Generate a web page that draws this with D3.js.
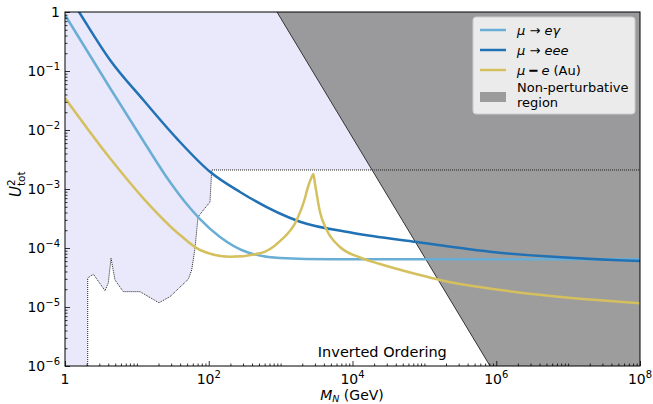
<!DOCTYPE html>
<html>
<head>
<meta charset="utf-8">
<script src="https://cdn.jsdelivr.net/npm/d3@7"></script>
<style>
  body { margin: 0; background: #fff; }
  text { font-family: "DejaVu Sans", sans-serif; }
</style>
</head>
<body>
<script>
// heavy neutral lepton mass (GeV) vs. total mixing
var egammaM = [1, 4.23, 12.97, 28.9, 46.7, 75.6, 143.5, 337, 980, 4860, 1e8]
var egammaU = [0.889, 5.15e-2, 5.9e-3, 1.31e-3, 6.02e-4, 3.1e-4, 1.54e-4, 8.55e-5, 6.77e-5, 6.43e-5, 6.43e-5]

var eeeM = [1, 1.57, 4.23, 12.3, 35.8, 104, 272, 1860, 10200, 7.9e4, 8.2e5, 1e8]
var eeeU = [2.4, 1, 0.154, 3.22e-2, 7.2e-3, 1.96e-3, 8.9e-4, 2.79e-4, 1.8e-4, 1.26e-4, 8.65e-5, 6.0e-5]

var auM = [1, 4.23, 12.3, 39.8, 75.6, 198, 517, 980, 1675, 2185, 2330, 2706, 2850,
           3010, 3530, 4380, 6700, 12700, 24150, 86900, 1.65e5, 1.73e6, 1e8]
var auU = [3.48e-2, 3.31e-3, 6.95e-4, 1.66e-4, 9.25e-5, 7.12e-5, 8.13e-5, 1.31e-4, 2.98e-4, 7.04e-4, 9.6e-4, 1.6e-3, 1.8e-3,
           1.22e-3, 4.07e-4, 2.02e-4, 1.04e-4, 6.9e-5, 5.36e-5, 3.48e-5, 2.87e-5, 1.82e-5, 1.16e-5]

// excluded region boundary (dotted)
var bndM = [1, 2.07, 2.07, 2.48, 3.6, 4.0, 4.37, 4.96, 6.47, 11.05, 20.3, 28.9, 51.9, 57.9, 64.4, 70.9, 88.7, 104, 110, 1e8]
var bndU = [1e-6, 1e-6, 3.1e-5, 3.6e-5, 1.89e-5, 2.55e-5, 6.7e-5, 2.87e-5, 1.82e-5, 1.82e-5, 1.18e-5, 1.5e-5,
            2.95e-5, 4.24e-5, 9.9e-5, 3.35e-4, 4.76e-4, 6.0e-4, 2.1e-3, 2.1e-3]

// non-perturbative edge
var nonPertM = [890, 8.2e5]
var nonPertU = [1, 1e-6]

var xMajor = [1, 1e2, 1e4, 1e6, 1e8]
var yMajor = [1e-6, 1e-5, 1e-4, 1e-3, 1e-2, 1e-1, 1]

var width = 653, height = 404
var pL = 65, pR = 640, pT = 12, pB = 366

var x = d3.scaleLog().domain([1, 1e8]).range([pL, pR])
var y = d3.scaleLog().domain([1e-6, 1]).range([pB, pT])

var zip = (a, b) => a.map((v, i) => [v, b[i]])

var svg = d3.select("body").append("svg")
    .attr("width", width)
    .attr("height", height)

svg.append("defs").append("clipPath").attr("id", "plot")
    .append("rect")
    .attr("x", pL).attr("y", pT)
    .attr("width", pR - pL).attr("height", pB - pT)

var plot = svg.append("g").attr("clip-path", "url(#plot)")

// lavender excluded area
var bnd = zip(bndM, bndU)
plot.append("path")
    .datum(bnd)
    .attr("fill", "#e9e9fb")
    .attr("d", d3.area().x(d => x(d[0])).y0(y(1)).y1(d => y(d[1])))

// non-perturbative region
var np = zip(nonPertM, nonPertU)
plot.append("path")
    .attr("fill", "#8f8f8f")
    .attr("fill-opacity", 0.87)
    .attr("d", `M${x(np[0][0])},${y(np[0][1])}L${x(1e8)},${y(1)}L${x(1e8)},${y(1e-6)}L${x(np[1][0])},${y(np[1][1])}Z`)
plot.append("path")
    .datum(np)
    .attr("fill", "none")
    .attr("stroke", "#333")
    .attr("stroke-width", 1)
    .attr("d", d3.line().x(d => x(d[0])).y(d => y(d[1])))

// dotted boundary
plot.append("path")
    .datum(bnd.slice(1))
    .attr("fill", "none")
    .attr("stroke", "#222")
    .attr("stroke-width", 1)
    .attr("stroke-dasharray", "1,1")
    .attr("d", d3.line().x(d => x(d[0])).y(d => y(d[1])))

// curves
var series = [
    {name: "egamma", color: "#6aaed6", data: zip(egammaM, egammaU)},
    {name: "eee", color: "#2171b5", data: zip(eeeM, eeeU)},
    {name: "au", color: "#d5c05f", data: zip(auM, auU)}
]
var line = d3.line()
    .x(d => x(d[0]))
    .y(d => y(d[1]))
    .curve(d3.curveMonotoneX)
plot.selectAll(".curve")
    .data(series)
    .enter().append("path")
    .attr("class", "curve")
    .attr("fill", "none")
    .attr("stroke", s => s.color)
    .attr("stroke-width", 2.5)
    .attr("d", s => line(s.data))

plot.append("text")
    .attr("x", x(2.6e4)).attr("y", 357)
    .attr("text-anchor", "middle")
    .attr("font-size", 14.5)
    .text("Inverted Ordering")

// axes, ticks pointing inward
var xMinor = []
for (var e = 0; e < 8; e++)
    for (var k = 1; k < 10; k++)
        if (!(k === 1 && e % 2 === 0)) xMinor.push(k * Math.pow(10, e))
var yMinor = []
for (var e = -6; e < 0; e++) for (var k = 2; k < 10; k++) yMinor.push(k * Math.pow(10, e))

svg.append("g").attr("transform", `translate(0,${pB})`)
    .call(d3.axisBottom(x).tickValues(xMajor).tickSize(-5).tickFormat(""))
svg.append("g").attr("transform", `translate(0,${pB})`)
    .call(d3.axisBottom(x).tickValues(xMinor).tickSize(-2.5).tickFormat(""))
svg.append("g").attr("transform", `translate(${pL},0)`)
    .call(d3.axisLeft(y).tickValues(yMajor).tickSize(-5).tickFormat(""))
svg.append("g").attr("transform", `translate(${pL},0)`)
    .call(d3.axisLeft(y).tickValues(yMinor).tickSize(-2.5).tickFormat(""))
svg.selectAll(".domain").remove()
svg.selectAll(".tick line").attr("stroke", "#000").attr("stroke-width", 0.8)

svg.append("rect")
    .attr("x", pL).attr("y", pT)
    .attr("width", pR - pL).attr("height", pB - pT)
    .attr("fill", "none").attr("stroke", "#000").attr("stroke-width", 1)

function powText(t, v) {
    var e = Math.round(Math.log10(v))
    if (e === 0) { t.text("1"); return }
    t.append("tspan").text("10")
    t.append("tspan").attr("font-size", 10).attr("dy", -6)
        .text(e < 0 ? "\u2212" + (-e) : e)
}
xMajor.forEach(v => {
    var t = svg.append("text")
        .attr("x", x(v)).attr("y", 384)
        .attr("text-anchor", "middle")
        .attr("font-size", 14)
    powText(t, v)
})
yMajor.forEach(v => {
    var t = svg.append("text")
        .attr("x", 60).attr("y", y(v) + 5)
        .attr("text-anchor", "end")
        .attr("font-size", 14)
    powText(t, v)
})

// axis titles
var xl = svg.append("text")
    .attr("x", 352).attr("y", 400)
    .attr("text-anchor", "middle")
    .attr("font-size", 14)
xl.append("tspan").attr("font-style", "italic").text("M")
xl.append("tspan").attr("font-style", "italic").attr("font-size", 9.5).attr("dy", 2).text("N")
xl.append("tspan").attr("dy", -2).text(" (GeV)")

var yl = svg.append("g").attr("transform", "translate(21,187) rotate(-90)")
yl.append("text").attr("x", -10).attr("font-size", 15).attr("font-style", "italic").text("U")
yl.append("text").attr("x", 1).attr("y", -6).attr("font-size", 10.5).text("2")
yl.append("text").attr("x", 1).attr("y", 4).attr("font-size", 10.5).text("tot")

// legend
var lg = svg.append("g")
lg.append("rect")
    .attr("x", 473).attr("y", 17).attr("width", 162).attr("height", 97)
    .attr("rx", 3)
    .attr("fill", "#fff").attr("fill-opacity", 0.8)
    .attr("stroke", "#ccc").attr("stroke-width", 1)

var legRows = [
    {color: series[0].color, y: 30, parts: [["\u03bc", "italic"], [" \u2192 ", "normal"], ["e\u03b3", "italic"]]},
    {color: series[1].color, y: 50, parts: [["\u03bc", "italic"], [" \u2192 ", "normal"], ["eee", "italic"]]},
    {color: series[2].color, y: 70, parts: [["\u03bc", "italic"], [" \u2501 ", "normal"], ["e", "italic"], [" (Au)", "normal"]]}
]
legRows.forEach(r => {
    lg.append("line")
        .attr("x1", 480).attr("x2", 506).attr("y1", r.y).attr("y2", r.y)
        .attr("stroke", r.color).attr("stroke-width", 2.5)
    var t = lg.append("text").attr("x", 517).attr("y", r.y + 4.5).attr("font-size", 13)
    r.parts.forEach(p => t.append("tspan").attr("font-style", p[1]).text(p[0]))
})
lg.append("rect")
    .attr("x", 480).attr("y", 92).attr("width", 26).attr("height", 10)
    .attr("fill", "#8f8f8f").attr("fill-opacity", 0.87)
lg.append("text").attr("x", 517).attr("y", 92).attr("font-size", 13).text("Non-perturbative")
lg.append("text").attr("x", 517).attr("y", 107).attr("font-size", 13).text("region")
</script>
</body>
</html>
